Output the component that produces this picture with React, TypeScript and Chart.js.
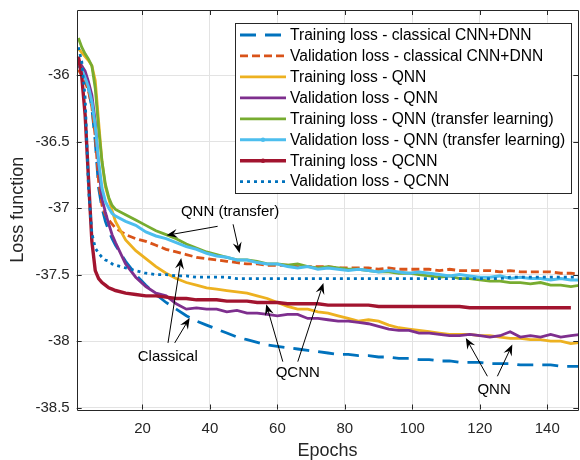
import React, { useEffect, useRef } from "react";
import { Chart, registerables } from "chart.js";

Chart.register(...registerables);

const FONT = '"Liberation Sans", Arial, Helvetica, sans-serif';

const epochs = [1, 2, 3, 4, 5, 6, 7, 8, 9, 10, 11, 12, 15, 18, 21, 24, 27, 30, 33, 36, 39, 42, 45, 48, 51, 54, 57, 60, 63, 66, 69, 72, 75, 78, 81, 84, 87, 90, 93, 96, 99, 102, 105, 108, 111, 114, 117, 120, 123, 126, 129, 132, 135, 138, 141, 144, 147, 150];

const trainClassical = [-35.92, -35.97, -36.03, -36.1, -36.25, -36.5, -36.85, -37.0, -37.1, -37.17, -37.23, -37.28, -37.4, -37.5, -37.58, -37.65, -37.71, -37.76, -37.81, -37.85, -37.88, -37.91, -37.94, -37.97, -37.99, -38.01, -38.03, -38.04, -38.05, -38.06, -38.07, -38.08, -38.09, -38.1, -38.1, -38.11, -38.11, -38.12, -38.12, -38.13, -38.13, -38.14, -38.14, -38.15, -38.15, -38.16, -38.16, -38.16, -38.17, -38.17, -38.17, -38.18, -38.18, -38.18, -38.18, -38.19, -38.19, -38.19];

const valClassical = [-35.96, -36.0, -36.05, -36.12, -36.24, -36.46, -36.8, -36.98, -37.05, -37.09, -37.12, -37.15, -37.2, -37.23, -37.25, -37.28, -37.31, -37.33, -37.35, -37.37, -37.38, -37.39, -37.4, -37.41, -37.42, -37.42, -37.43, -37.43, -37.43, -37.44, -37.44, -37.44, -37.44, -37.45, -37.45, -37.45, -37.45, -37.46, -37.45, -37.46, -37.46, -37.46, -37.46, -37.47, -37.46, -37.47, -37.47, -37.47, -37.47, -37.48, -37.47, -37.48, -37.48, -37.48, -37.48, -37.49, -37.49, -37.5];

const trainQNN = [-35.8, -35.83, -35.86, -35.89, -35.93, -36.04, -36.35, -36.65, -36.84, -36.93, -37.02, -37.1, -37.24, -37.32, -37.38, -37.44, -37.49, -37.53, -37.56, -37.58, -37.6, -37.61, -37.62, -37.63, -37.64, -37.66, -37.68, -37.71, -37.74, -37.76, -37.76, -37.78, -37.79, -37.81, -37.83, -37.85, -37.84, -37.85, -37.88, -37.9, -37.91, -37.92, -37.93, -37.94, -37.95, -37.95, -37.95, -37.96, -37.96, -37.97, -37.98, -37.98, -37.99, -37.99, -38.0, -38.0, -38.02, -38.01];

const valQNN = [-35.88, -35.93, -35.97, -36.05, -36.15, -36.35, -36.68, -36.93, -37.03, -37.12, -37.2, -37.26, -37.42, -37.52, -37.59, -37.64, -37.66, -37.72, -37.76, -37.75, -37.76, -37.76, -37.78, -37.77, -37.79, -37.79, -37.8, -37.81, -37.8, -37.8, -37.83, -37.83, -37.84, -37.85, -37.85, -37.86, -37.87, -37.89, -37.91, -37.92, -37.92, -37.94, -37.94, -37.95, -37.96, -37.96, -37.95, -37.96, -37.97, -37.96, -37.93, -37.97, -37.96, -37.97, -37.95, -37.97, -37.96, -37.95];

const trainQNNTransfer = [-35.72, -35.79, -35.84, -35.88, -35.93, -36.1, -36.4, -36.65, -36.82, -36.92, -36.98, -37.01, -37.05, -37.09, -37.13, -37.17, -37.2, -37.23, -37.27, -37.3, -37.33, -37.35, -37.37, -37.39, -37.39, -37.4, -37.42, -37.42, -37.43, -37.42, -37.44, -37.45, -37.44, -37.45, -37.46, -37.46, -37.47, -37.48, -37.48, -37.49, -37.49, -37.5, -37.51, -37.52, -37.51, -37.53, -37.53, -37.54, -37.55, -37.55, -37.56, -37.56, -37.57, -37.56, -37.58, -37.58, -37.59, -37.58];

const valQNNTransfer = [-35.91, -35.96, -36.02, -36.09, -36.2, -36.38, -36.65, -36.85, -36.95, -37.0, -37.04, -37.06, -37.1, -37.13, -37.18, -37.21, -37.23, -37.26, -37.29, -37.31, -37.34, -37.36, -37.37, -37.39, -37.39, -37.41, -37.42, -37.42, -37.44, -37.45, -37.44, -37.46, -37.45, -37.46, -37.47, -37.46, -37.47, -37.48, -37.47, -37.48, -37.49, -37.48, -37.49, -37.5, -37.51, -37.5, -37.51, -37.52, -37.52, -37.51, -37.53, -37.52, -37.53, -37.53, -37.54, -37.53, -37.54, -37.54];

const trainQCNN = [-35.86, -36.01, -36.3, -36.78, -37.25, -37.47, -37.53, -37.56, -37.58, -37.6, -37.61, -37.62, -37.64, -37.65, -37.66, -37.66, -37.67, -37.68, -37.68, -37.69, -37.69, -37.69, -37.7, -37.7, -37.7, -37.71, -37.71, -37.71, -37.72, -37.72, -37.72, -37.72, -37.73, -37.73, -37.73, -37.73, -37.73, -37.74, -37.74, -37.74, -37.74, -37.74, -37.74, -37.74, -37.74, -37.74, -37.75, -37.75, -37.75, -37.75, -37.75, -37.75, -37.75, -37.75, -37.75, -37.75, -37.75, null];

const valQCNN = [-35.79, -35.9, -36.17, -36.85, -37.19, -37.3, -37.34, -37.37, -37.39, -37.4, -37.42, -37.43, -37.45, -37.47, -37.49, -37.5, -37.5, -37.51, -37.51, -37.52, -37.52, -37.52, -37.52, -37.53, -37.53, -37.53, -37.53, -37.53, -37.53, -37.53, -37.53, -37.53, -37.53, -37.53, -37.53, -37.53, -37.53, -37.53, -37.53, -37.53, -37.53, -37.53, -37.53, -37.53, -37.53, -37.53, -37.53, -37.53, -37.53, -37.53, -37.52, -37.52, -37.52, -37.52, -37.52, -37.52, -37.52, -37.52];

const seriesLabels = [
  "Training loss - classical CNN+DNN",
  "Validation loss - classical CNN+DNN",
  "Training loss - QNN",
  "Validation loss - QNN",
  "Training loss - QNN (transfer learning)",
  "Validation loss - QNN (transfer learning)",
  "Training loss - QCNN",
  "Validation loss - QCNN",
];
const seriesValues = [trainClassical, valClassical, trainQNN, valQNN, trainQNNTransfer, valQNNTransfer, trainQCNN, valQCNN];

const xTicks = [20, 40, 60, 80, 100, 120, 140];
const yTicks = [-38.5, -38, -37.5, -37, -36.5, -36];

type Arrow = { from: [number, number]; to: [number, number] };
type Note = { text: string; at: [number, number]; arrows: Arrow[] };

const notes: Note[] = [
  {
    text: "QNN (transfer)",
    at: [45.98, -37.03],
    arrows: [
      { from: [42.28, -37.137], to: [27.1, -37.205] },
      { from: [46.86, -37.122], to: [48.79, -37.339] },
    ],
  },
  {
    text: "Classical",
    at: [27.49, -38.117],
    arrows: [
      { from: [27.57, -38.014], to: [31.48, -37.376] },
      { from: [29.56, -38.014], to: [33.99, -37.826] },
    ],
  },
  {
    text: "QCNN",
    at: [66.04, -38.241],
    arrows: [
      { from: [61.6, -38.155], to: [56.69, -37.723] },
      { from: [66.04, -38.155], to: [73.64, -37.564] },
    ],
  },
  {
    text: "QNN",
    at: [124.23, -38.365],
    arrows: [
      { from: [122.25, -38.265], to: [115.86, -37.977] },
      { from: [125.21, -38.265], to: [129.64, -38.027] },
    ],
  },
];

const styles = [
  { color: "#0072BD", width: 2.8, dash: [16, 9], dot: false },
  { color: "#D95319", width: 2.8, dash: [8, 4], dot: false },
  { color: "#EDB120", width: 2.8, dash: [] as number[], dot: false },
  { color: "#7E2F8E", width: 2.8, dash: [] as number[], dot: false },
  { color: "#77AC30", width: 2.8, dash: [] as number[], dot: false },
  { color: "#4DBEEE", width: 3, dash: [] as number[], dot: true },
  { color: "#A2142F", width: 3.4, dash: [] as number[], dot: true },
  { color: "#0072BD", width: 2.8, dash: [3, 4], dot: false },
];

function drawArrow(ctx: CanvasRenderingContext2D, x1: number, y1: number, x2: number, y2: number) {
  const ang = Math.atan2(y2 - y1, x2 - x1);
  const c = Math.cos(ang);
  const s = Math.sin(ang);
  const L = 11;
  const W = 4.5;
  const notch = 7;
  ctx.beginPath();
  ctx.moveTo(x1, y1);
  ctx.lineTo(x2 - c * notch, y2 - s * notch);
  ctx.stroke();
  ctx.beginPath();
  ctx.moveTo(x2, y2);
  ctx.lineTo(x2 - L * c + W * s, y2 - L * s - W * c);
  ctx.lineTo(x2 - notch * c, y2 - notch * s);
  ctx.lineTo(x2 - L * c - W * s, y2 - L * s + W * c);
  ctx.closePath();
  ctx.fill();
}

const decorPlugin = {
  id: "matlabDecor",
  afterDatasetsDraw(chart: any) {
    const ctx: CanvasRenderingContext2D = chart.ctx;
    const ca = chart.chartArea;
    const xs = chart.scales.x;
    const ys = chart.scales.y;
    ctx.save();

    // box and inside ticks
    ctx.strokeStyle = "#262626";
    ctx.lineWidth = 1;
    ctx.beginPath();
    ctx.rect(Math.round(ca.left) + 0.5, Math.round(ca.top) + 0.5, Math.round(ca.right - ca.left) - 1, Math.round(ca.bottom - ca.top));
    ctx.stroke();
    const tl = 5;
    ctx.beginPath();
    for (const v of xTicks) {
      const px = Math.round(xs.getPixelForValue(v)) + 0.5;
      ctx.moveTo(px, ca.bottom);
      ctx.lineTo(px, ca.bottom - tl);
      ctx.moveTo(px, ca.top);
      ctx.lineTo(px, ca.top + tl);
    }
    for (const v of yTicks) {
      const py = Math.round(ys.getPixelForValue(v)) + 0.5;
      ctx.moveTo(ca.left, py);
      ctx.lineTo(ca.left + tl, py);
      ctx.moveTo(ca.right, py);
      ctx.lineTo(ca.right - tl, py);
    }
    ctx.stroke();

    // annotations
    ctx.fillStyle = "#000";
    ctx.strokeStyle = "#000";
    ctx.lineWidth = 1;
    ctx.font = `15px ${FONT}`;
    ctx.textAlign = "center";
    ctx.textBaseline = "middle";
    for (const n of notes) {
      ctx.fillText(n.text, xs.getPixelForValue(n.at[0]), ys.getPixelForValue(n.at[1]));
      for (const a of n.arrows) {
        drawArrow(
          ctx,
          xs.getPixelForValue(a.from[0]),
          ys.getPixelForValue(a.from[1]),
          xs.getPixelForValue(a.to[0]),
          ys.getPixelForValue(a.to[1])
        );
      }
    }

    // legend
    const lx = ca.left + 158.3;
    const ly = ca.top + 12.7;
    const lw = 335.7;
    const lh = 170;
    ctx.fillStyle = "#fff";
    ctx.fillRect(lx, ly, lw, lh);
    ctx.strokeStyle = "#262626";
    ctx.lineWidth = 1;
    ctx.strokeRect(Math.round(lx) + 0.5, Math.round(ly) + 0.5, Math.round(lw), Math.round(lh));
    ctx.textAlign = "left";
    ctx.textBaseline = "middle";
    ctx.font = `15.6px ${FONT}`;
    seriesLabels.forEach((label, i) => {
      const st = styles[i];
      const yy = ly + 12.3 + i * 20.95;
      ctx.save();
      ctx.strokeStyle = st.color;
      ctx.lineWidth = st.width;
      ctx.setLineDash(st.dash);
      ctx.beginPath();
      ctx.moveTo(lx + 5, yy);
      ctx.lineTo(lx + 51, yy);
      ctx.stroke();
      ctx.setLineDash([]);
      if (st.dot) {
        ctx.fillStyle = st.color;
        ctx.beginPath();
        ctx.arc(lx + 28, yy, 2.2, 0, Math.PI * 2);
        ctx.fill();
      }
      ctx.restore();
      ctx.fillStyle = "#000";
      ctx.fillText(label, lx + 55, yy + 0.5);
    });

    ctx.restore();
  },
};

export default function App() {
  const canvasRef = useRef<HTMLCanvasElement | null>(null);

  useEffect(() => {
    const canvas = canvasRef.current;
    if (!canvas) return;
    const datasets = seriesValues.map((vals, i) => ({
      label: seriesLabels[i],
      data: epochs.map((e, j) => ({ x: e, y: vals[j] })),
      borderColor: styles[i].color,
      backgroundColor: styles[i].color,
      borderWidth: styles[i].width,
      borderDash: styles[i].dash,
      pointRadius: 0,
      tension: 0,
      fill: false,
      spanGaps: false,
      order: 7 - i,
    }));
    const chart = new Chart(canvas, {
      type: "line",
      data: { datasets } as any,
      plugins: [decorPlugin],
      options: {
        responsive: false,
        animation: false,
        events: [],
        layout: { padding: { top: 10, right: 1.7, left: 0, bottom: 0 } },
        plugins: { legend: { display: false }, tooltip: { enabled: false } },
        scales: {
          x: {
            type: "linear",
            min: 0.5,
            max: 149.2,
            afterBuildTicks: (scale: any) => {
              scale.ticks = xTicks.map((v) => ({ value: v }));
            },
            afterFit: (scale: any) => {
              scale.height = 50.5;
              scale.paddingLeft = 0;
              scale.paddingRight = 0;
            },
            grid: { color: "#e3e3e3", lineWidth: 1, drawTicks: false },
            border: { display: false },
            ticks: {
              autoSkip: false,
              maxRotation: 0,
              padding: 10,
              color: "#262626",
              font: { family: FONT, size: 15 },
              callback: (v: any) => String(v),
            },
            title: {
              display: true,
              text: "Epochs",
              color: "#262626",
              font: { family: FONT, size: 18, lineHeight: 1 },
              padding: 0,
            },
          },
          y: {
            type: "linear",
            min: -38.515,
            max: -35.51,
            afterBuildTicks: (scale: any) => {
              scale.ticks = yTicks.map((v) => ({ value: v }));
            },
            afterFit: (scale: any) => {
              scale.width = 76.7;
              scale.paddingTop = 0;
              scale.paddingBottom = 0;
            },
            grid: { color: "#e3e3e3", lineWidth: 1, drawTicks: false },
            border: { display: false },
            ticks: {
              autoSkip: false,
              padding: 7,
              color: "#262626",
              font: { family: FONT, size: 15 },
              callback: (v: any) => String(v),
            },
            title: {
              display: true,
              text: "Loss function",
              color: "#262626",
              font: { family: FONT, size: 18, lineHeight: 1 },
              padding: { top: 9.3, bottom: 0 },
            },
          },
        },
      } as any,
    });
    return () => chart.destroy();
  }, []);

  return (
    <div style={{ position: "absolute", left: 0, top: 0, width: 580, height: 460, background: "#fff" }}>
      <canvas ref={canvasRef} width={580} height={460} style={{ display: "block", width: 580, height: 460 }} />
    </div>
  );
}
